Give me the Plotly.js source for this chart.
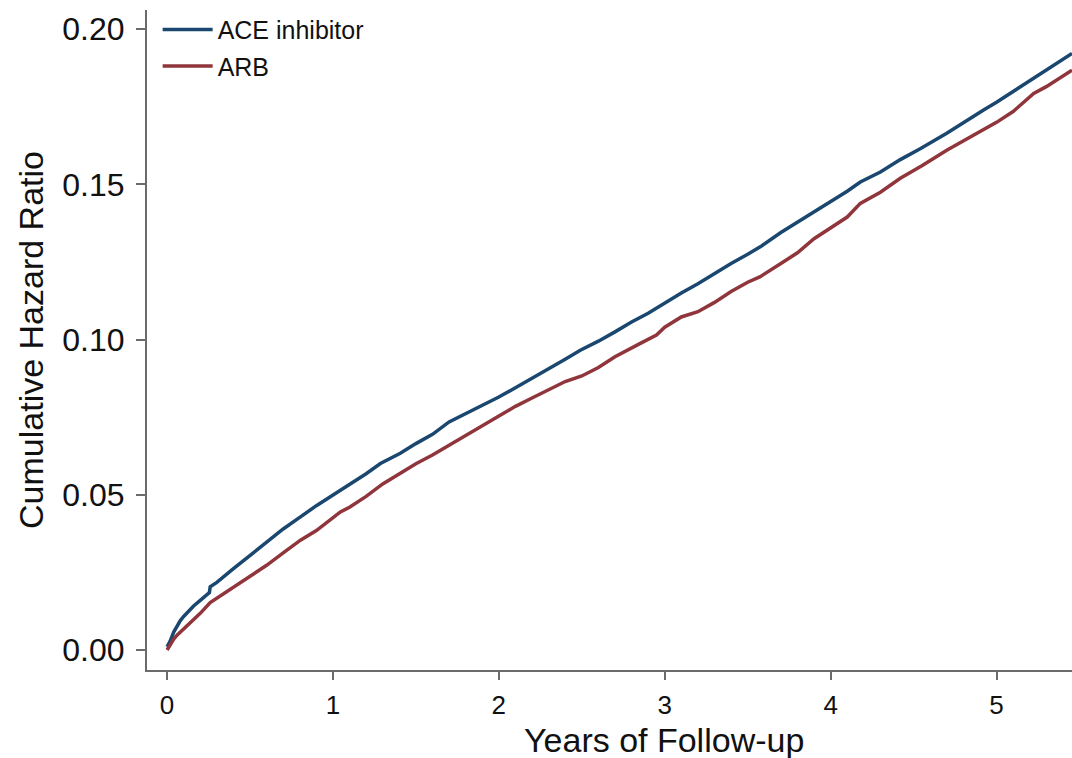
<!DOCTYPE html>
<html>
<head>
<meta charset="utf-8">
<script src="https://cdn.plot.ly/plotly-3.0.1.min.js"></script>
<style>html,body{margin:0;padding:0;background:#fff;}#chart{width:1072px;height:758px;}</style>
</head>
<body>
<div id="chart"></div>
<script>
// ACE inhibitor cumulative hazard (years, value)
var aceYears = [0, 0.02, 0.04, 0.06, 0.08, 0.1, 0.13, 0.16, 0.2, 0.255, 0.26, 0.3, 0.4, 0.5, 0.562, 0.6, 0.7, 0.804, 0.9, 1.045, 1.1, 1.2, 1.286, 1.406, 1.5, 1.6, 1.7, 1.8, 1.889, 2.0, 2.1, 2.2, 2.3, 2.4, 2.491, 2.6, 2.7, 2.8, 2.9, 3.014, 3.1, 3.2, 3.3, 3.4, 3.5, 3.576, 3.7, 3.8, 3.9, 4.0, 4.1, 4.179, 4.3, 4.42, 4.54, 4.7, 4.8, 4.922, 5.0, 5.1, 5.2, 5.3, 5.455];
var aceHazard = [0.001, 0.003, 0.0058, 0.0078, 0.0095, 0.0108, 0.0125, 0.0142, 0.016, 0.0185, 0.0204, 0.0218, 0.0262, 0.0305, 0.0333, 0.0348, 0.039, 0.0429, 0.0465, 0.0515, 0.0533, 0.0568, 0.0601, 0.0634, 0.0665, 0.0695, 0.0735, 0.0762, 0.0783, 0.0815, 0.0845, 0.0875, 0.0905, 0.0937, 0.0966, 0.0995, 0.1025, 0.1057, 0.1085, 0.1123, 0.115, 0.118, 0.1213, 0.1245, 0.1275, 0.1299, 0.1345, 0.1378, 0.141, 0.1445, 0.1478, 0.1508, 0.154, 0.158, 0.1615, 0.1665, 0.17, 0.174, 0.1765, 0.18, 0.1835, 0.187, 0.1922];
// ARB cumulative hazard (years, value)
var arbYears = [0, 0.02, 0.04, 0.06, 0.08, 0.1, 0.13, 0.16, 0.2, 0.26, 0.3, 0.4, 0.5, 0.562, 0.6, 0.7, 0.804, 0.9, 1.045, 1.1, 1.2, 1.3, 1.406, 1.5, 1.6, 1.7, 1.8, 1.889, 2.0, 2.1, 2.2, 2.3, 2.4, 2.5, 2.6, 2.7, 2.8, 2.853, 2.95, 3.0, 3.1, 3.2, 3.3, 3.4, 3.5, 3.576, 3.7, 3.8, 3.9, 4.0, 4.1, 4.179, 4.3, 4.42, 4.55, 4.7, 4.8, 4.922, 5.0, 5.1, 5.224, 5.3, 5.455];
var arbHazard = [0, 0.0018, 0.0035, 0.0048, 0.0058, 0.0066, 0.0082, 0.0097, 0.0118, 0.0153, 0.0167, 0.0203, 0.0235, 0.0258, 0.0273, 0.0313, 0.0354, 0.0385, 0.0445, 0.046, 0.0495, 0.0535, 0.0569, 0.06, 0.0628, 0.066, 0.0692, 0.0719, 0.0755, 0.0785, 0.0812, 0.084, 0.0865, 0.0883, 0.091, 0.0945, 0.0975, 0.0988, 0.1015, 0.104, 0.1073, 0.109, 0.112, 0.1155, 0.1185, 0.1203, 0.1245, 0.128, 0.1325, 0.136, 0.1395, 0.1439, 0.1475, 0.152, 0.156, 0.161, 0.164, 0.1675, 0.17, 0.1735, 0.1793, 0.1815, 0.1868];
var seriesNames = ["ACE inhibitor", "ARB"];
var xTicks = [0, 1, 2, 3, 4, 5];
var yTicks = [0, 0.05, 0.10, 0.15, 0.20];
var yTickText = ["0.00", "0.05", "0.10", "0.15", "0.20"];
var xTitle = "Years of Follow-up";
var yTitle = "Cumulative Hazard Ratio";

var FONT = "Liberation Sans, Arial, sans-serif";
var traces = [
  {x: aceYears, y: aceHazard, name: seriesNames[0], legendgroup: "a", type: "scatter", mode: "lines",
   line: {color: "#1a476f", width: 3.5}},
  {x: arbYears, y: arbHazard, name: seriesNames[1], legendgroup: "b", type: "scatter", mode: "lines",
   line: {color: "#90353b", width: 3.5}}
];
var axisCol = "#6b6b6b";
var layout = {
  width: 1072, height: 758,
  margin: {l: 147, r: 0, t: 10, b: 88},
  paper_bgcolor: "#fff", plot_bgcolor: "#fff",
  font: {family: FONT, color: "#111"},
  showlegend: true,
  legend: {x: 0.0115, y: 1.005, xanchor: "left", yanchor: "top", bgcolor: "rgba(0,0,0,0)",
           font: {family: FONT, size: 25, color: "#111"}, traceorder: "grouped", tracegroupgap: 1, itemwidth: 50},
  xaxis: {
    range: [-0.121, 5.455], showgrid: false, zeroline: false,
    showline: true, linecolor: axisCol, linewidth: 2,
    ticks: "outside", ticklen: 8, tickwidth: 2, tickcolor: axisCol,
    tickvals: xTicks, ticktext: xTicks.map(String), ticklabelstandoff: 3,
    tickfont: {family: FONT, size: 26, color: "#111"}
  },
  yaxis: {
    range: [-0.00644, 0.2062], showgrid: false, zeroline: false,
    showline: true, linecolor: axisCol, linewidth: 2,
    ticks: "outside", ticklen: 9, tickwidth: 2, tickcolor: axisCol,
    tickvals: yTicks, ticktext: yTickText, ticklabelstandoff: 5,
    tickfont: {family: FONT, size: 32, color: "#111"},
    title: {text: yTitle, font: {family: FONT, size: 34, color: "#111"}, standoff: 8}
  },
  annotations: [{
    text: xTitle, xref: "paper", yref: "paper", x: 0.559, y: -0.106,
    xanchor: "center", yanchor: "middle", showarrow: false,
    font: {family: FONT, size: 34, color: "#111"}
  }]
};
Plotly.newPlot("chart", traces, layout, {displayModeBar: false, staticPlot: true});
</script>
</body>
</html>
